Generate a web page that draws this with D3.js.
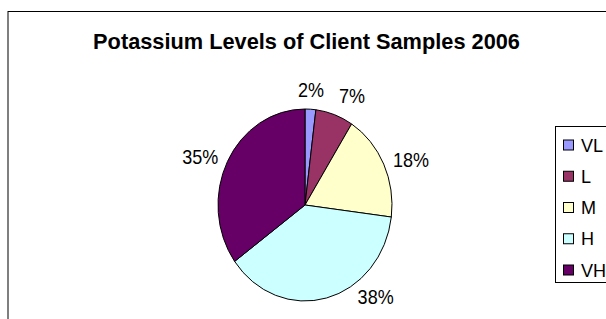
<!DOCTYPE html>
<html>
<head>
<meta charset="utf-8">
<script src="https://cdn.jsdelivr.net/npm/d3@7"></script>
<style>
  body { margin: 0; background: #fff; }
  text { font-family: "Liberation Sans", Arial, sans-serif; fill: #000; }
</style>
</head>
<body>
<div id="chart"></div>
<script>
// data
var categories = [ "VL", "L", "M", "H", "VH" ];
var shares = [ 2, 7, 18, 38, 35 ];
var shareLabels = [ "2%", "7%", "18%", "38%", "35%" ];
var sliceColors = [ "#9999ff", "#993366", "#ffffcc", "#ccffff", "#660066" ];
var chartTitle = "Potassium Levels of Client Samples 2006";

var width = 606, height = 319;
var cx = 305, cy = 205, rx = 87, ry = 96;

var svg = d3.select( "#chart" ).append( "svg" )
    .attr( "width", width )
    .attr( "height", height );

// chart area border (runs off the right and bottom)
svg.append( "rect" )
    .attr( "x", 8 ).attr( "y", 11.5 )
    .attr( "width", 700 ).attr( "height", 400 )
    .attr( "fill", "#fff" )
    .attr( "stroke", "#000" );

// title, squeezed a little like the original
var title = svg.append( "text" )
    .style( "font-size", "22px" )
    .style( "font-weight", "bold" )
    .style( "text-anchor", "middle" )
    .text( chartTitle );
var tl = title.node().getComputedTextLength();
title.attr( "transform", "translate(306.5,49) scale(" + ( 427 / tl ) + ",1)" );

// the pie, drawn round and stretched into an ellipse
var pie = d3.pie().sort( null ).value( function( d ) { return d; } );
var arcs = pie( shares );
var arc = d3.arc().innerRadius( 0 ).outerRadius( ry );

var g = svg.append( "g" )
    .attr( "transform", "translate(" + cx + "," + cy + ") scale(" + ( rx / ry ) + ",1)" );

g.selectAll( "path" )
    .data( arcs )
    .enter().append( "path" )
    .attr( "d", arc )
    .attr( "fill", function( d, i ) { return sliceColors[ i ]; } )
    .attr( "stroke", "#000" )
    .attr( "stroke-width", 1 )
    .attr( "vector-effect", "non-scaling-stroke" );

// data labels just outside the rim
var k = 1.1, capH = 14.5, maxBaseline = 303.5;
function placeLabel( a ) {
    var s = Math.sin( a ), c = Math.cos( a );
    var px = cx + rx * k * s, py = cy - ry * k * c;
    var anchor = s > 0.2 ? "start" : ( s < -0.2 ? "end" : "middle" );
    var x = px + ( anchor == "start" ? 1.5 : ( anchor == "end" ? -1.5 : 0 ) );
    var y;
    if( c > 0.7 ) y = py - 2.5;
    else if( c < -0.7 ) y = py + capH + 2.5;
    else y = py + capH / 2;
    return { x: x, y: y, anchor: anchor };
}

svg.selectAll( ".lbl" )
    .data( arcs )
    .enter().append( "text" )
    .attr( "class", "lbl" )
    .each( function( d, i ) {
        var a = ( d.startAngle + d.endAngle ) / 2;
        var pos = placeLabel( a );
        // too low: slide it round a wider ring until it fits
        if( pos.y > maxBaseline ) {
            var k2 = 1.25, midY = maxBaseline - capH / 2;
            var na = Math.acos( Math.max( -1, Math.min( 1, ( cy - midY ) / ( ry * k2 ) ) ) );
            if( Math.sin( a ) < 0 ) na = 2 * Math.PI - na;
            pos = { x: cx + rx * k2 * Math.sin( na ), y: maxBaseline, anchor: "middle" };
        }
        d3.select( this )
            .attr( "transform", "translate(" + pos.x + "," + pos.y + ") scale(0.9,1)" )
            .style( "text-anchor", pos.anchor )
            .style( "font-size", "20px" )
            .text( shareLabels[ i ] );
    });

// legend
var legendY = d3.scalePoint().domain( categories ).range( [ 145, 270 ] );

svg.append( "rect" )
    .attr( "x", 555.5 ).attr( "y", 126.5 )
    .attr( "width", 80 ).attr( "height", 156 )
    .attr( "fill", "#fff" )
    .attr( "stroke", "#000" );

var item = svg.selectAll( ".item" )
    .data( categories )
    .enter().append( "g" )
    .attr( "class", "item" )
    .attr( "transform", function( d ) { return "translate(563.5," + legendY( d ) + ")"; } );

item.append( "rect" )
    .attr( "x", 0 ).attr( "y", -5 )
    .attr( "width", 10 ).attr( "height", 10 )
    .attr( "fill", function( d, i ) { return sliceColors[ i ]; } )
    .attr( "stroke", "#000" );

item.append( "text" )
    .attr( "transform", "translate(17.5,6.5) scale(0.95,1)" )
    .style( "font-size", "19px" )
    .text( function( d ) { return d; } );
</script>
</body>
</html>
